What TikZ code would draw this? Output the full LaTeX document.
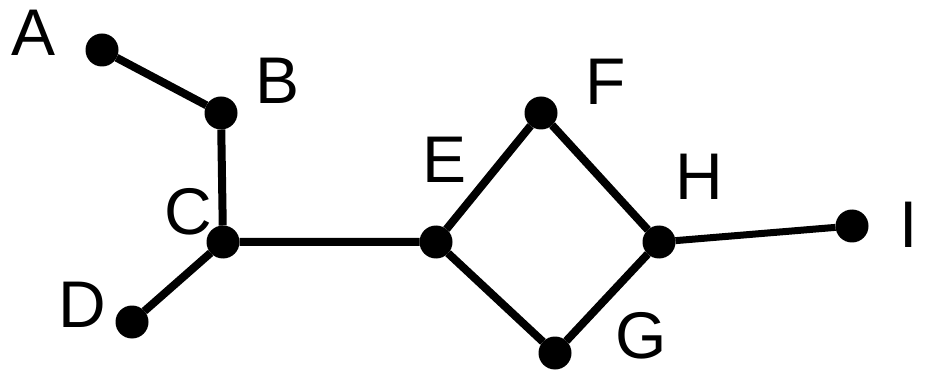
\documentclass[tikz,border=0pt]{standalone}
\usepackage{fontspec}
\setmainfont{Liberation Sans}
\tikzset{dot/.style={circle,fill,inner sep=0pt,outer sep=0pt,minimum size=33pt}}
\tikzset{lbl/.style={font=\fontsize{66}{66}\selectfont,inner sep=0pt}}

\begin{document}
\begin{tikzpicture}[x=1pt,y=-1pt,line width=8pt]
  \useasboundingbox (0,0) rectangle (936,371);
  % vertices
  \node[dot] (a) at (102,50) {};
  \node[dot] (b) at (221,113) {};
  \node[dot] (c) at (223,242) {};
  \node[dot] (d) at (132,322) {};
  \node[dot] (e) at (436,242) {};
  \node[dot] (f) at (541,113) {};
  \node[dot] (g) at (555,353) {};
  \node[dot] (h) at (659,242) {};
  \node[dot] (i) at (852,226) {};
  % labels
  \node[lbl] (la) at (34,33) {A};
  \node[lbl] (lb) at (278,81) {B};
  \node[lbl] (lc) at (188,212) {C};
  \node[lbl] (ld) at (82,305) {D};
  \node[lbl] (le) at (445,160) {E};
  \node[lbl] (lf) at (606,82) {F};
  \node[lbl] (lg) at (641,336) {G};
  \node[lbl] (lh) at (699,177) {H};
  \node[lbl] (li) at (909,225) {I};
  % edges
  \draw (a) -- (b) -- (c) -- (d);
  \draw (c) -- (e) -- (f) -- (h) -- (g) -- (e);
  \draw[line width=7pt] (h) -- (i);
\end{tikzpicture}
\end{document}
